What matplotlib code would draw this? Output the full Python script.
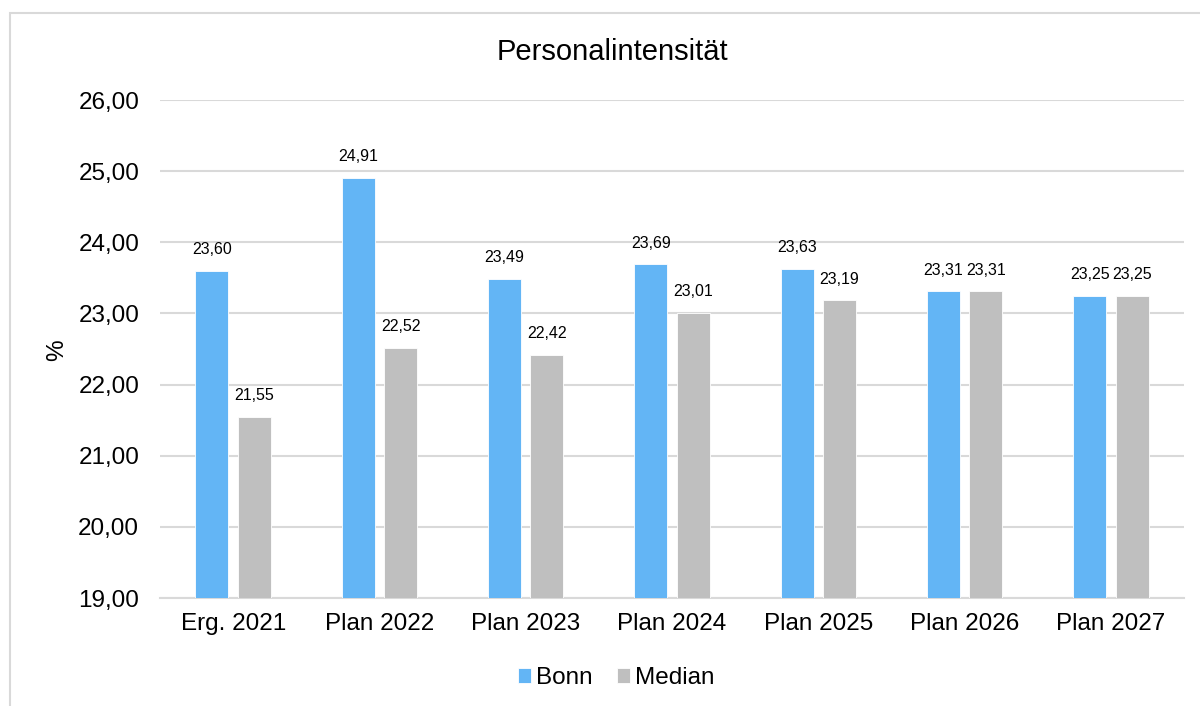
import matplotlib
matplotlib.use("Agg")
import matplotlib.pyplot as plt
import numpy as np
from matplotlib.patches import Rectangle

categories = ["Erg. 2021", "Plan 2022", "Plan 2023", "Plan 2024", "Plan 2025", "Plan 2026", "Plan 2027"]
bonn = [23.60, 24.91, 23.49, 23.69, 23.63, 23.31, 23.25]
median = [21.55, 22.52, 22.42, 23.01, 23.19, 23.31, 23.25]
yticks = [19, 20, 21, 22, 23, 24, 25, 26]

plt.rcParams['font.family'] = ['Liberation Sans', 'DejaVu Sans']

fig = plt.figure(figsize=(12, 7.06), dpi=100)
ax = fig.add_axes([160/1200, 1-598/706, 1024/1200, 498/706])

# chart border
fig.patches.append(Rectangle((10/1200, -0.1), 1.2, 1-13/706+0.1, transform=fig.transFigure,
                             fill=False, edgecolor='#d9d9d9', linewidth=1.5, zorder=0))

x = np.arange(len(categories))
w = 0.225
off = 0.145
blue = '#63b5f5'
gray = '#bfbfbf'
b1 = ax.bar(x - off, np.array(bonn) - 19, w, bottom=19, color=blue, edgecolor='white', linewidth=0.6, label='Bonn', zorder=3)
b2 = ax.bar(x + off, np.array(median) - 19, w, bottom=19, color=gray, edgecolor='white', linewidth=0.6, label='Median', zorder=3)

for xs, vals in ((x - off, bonn), (x + off, median)):
    for xi, v in zip(xs, vals):
        ax.annotate(f"{v:.2f}".replace('.', ','), (xi, v), xytext=(0, 15), textcoords='offset points',
                    ha='center', va='center', fontsize=11.5, color='black')

ax.set_xlim(-0.5, len(categories) - 0.5)
ax.set_ylim(19, 26)
ax.set_yticks(yticks)
ax.set_yticklabels([f"{t:.2f}".replace('.', ',') for t in yticks], fontsize=17.5)
ax.set_xticks(x)
ax.set_xticklabels(categories, fontsize=17.5)
ax.tick_params(axis='both', length=0)
ax.tick_params(axis='y', pad=15)
ax.tick_params(axis='x', pad=11)
ax.grid(axis='y', color='#d9d9d9', linewidth=1.5, zorder=0)
ax.set_axisbelow(True)
for s in ['top', 'right', 'left']:
    ax.spines[s].set_visible(False)
ax.spines['bottom'].set_color('#d9d9d9')
ax.spines['bottom'].set_linewidth(1.5)

fig.text(57/1200, 1-350/706, '%', rotation=90, fontsize=17.5, ha='center', va='center')
fig.text(612/1200, 1-52/706, 'Personalintensität', fontsize=21, ha='center', va='center')

leg = fig.legend(handles=[b1, b2], labels=['Bonn', 'Median'], loc='center', bbox_to_anchor=(616/1200, 1-678/706),
                 ncol=2, frameon=False, fontsize=17.5, handlelength=0.55, handleheight=0.55,
                 handletextpad=0.2, columnspacing=1.0)

fig.savefig('out.png', dpi=100)
